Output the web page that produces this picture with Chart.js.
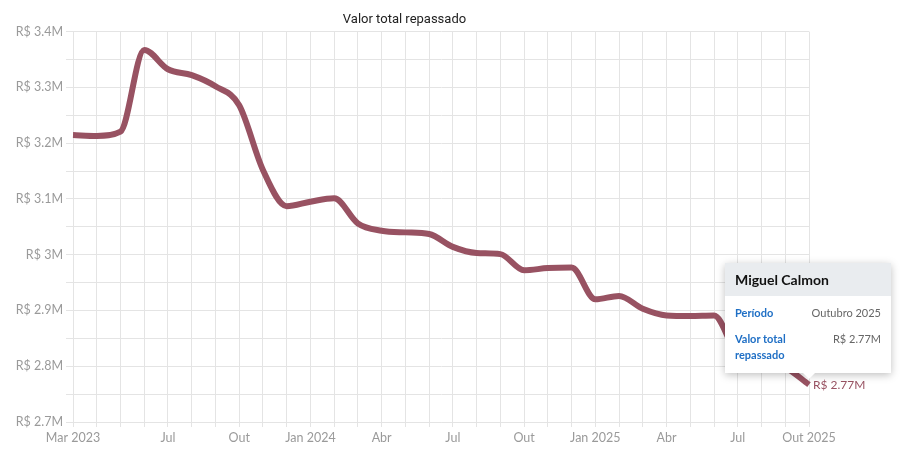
<!DOCTYPE html>
<html>
<head>
<meta charset="utf-8">
<script src="https://cdn.jsdelivr.net/npm/chart.js@4.4.1/dist/chart.umd.min.js"></script>
<style>
  html, body { margin: 0; padding: 0; background: #fff; }
  #wrap { position: relative; width: 907px; height: 465px; }
  #tip {
    position: absolute; width: 166px; background: #fff;
    box-shadow: 0 2px 8px rgba(0,0,0,0.25); font-family: Lato, sans-serif;
  }
  #tip::after {
    content: ''; position: absolute; bottom: -6px; left: 78px;
    border-left: 6px solid transparent; border-right: 6px solid transparent;
    border-top: 6px solid #fff;
  }
  #tip .head { background: #e9ecef; padding: 8px 10px; font-weight: bold; font-size: 14px; color: #111; }
  #tip .row { display: flex; justify-content: space-between; padding: 0 10px; font-size: 11px; line-height: 16px; }
  #tip .row b { color: #1f6fc5; }
  #tip .row span { color: #666; }
</style>
</head>
<body>
<div id="wrap">
  <canvas id="chart" width="907" height="465"></canvas>
  <div id="tip">
    <div class="head">Miguel Calmon</div>
    <div class="row" style="margin-top:9px"><b>Período</b><span>Outubro 2025</span></div>
    <div class="row" style="margin-top:10px;margin-bottom:10px"><b>Valor total<br>repassado</b><span>R$ 2.77M</span></div>
  </div>
</div>
<script>
// meses de Mar 2023 a Out 2025
const months = [
  'Mar 2023', 'Abr 2023', 'Mai 2023', 'Jun 2023', 'Jul 2023', 'Ago 2023', 'Set 2023', 'Out 2023',
  'Nov 2023', 'Dez 2023', 'Jan 2024', 'Fev 2024', 'Mar 2024', 'Abr 2024', 'Mai 2024', 'Jun 2024',
  'Jul 2024', 'Ago 2024', 'Set 2024', 'Out 2024', 'Nov 2024', 'Dez 2024', 'Jan 2025', 'Fev 2025',
  'Mar 2025', 'Abr 2025', 'Mai 2025', 'Jun 2025', 'Jul 2025', 'Ago 2025', 'Set 2025', 'Out 2025'
];

// valor total repassado (R$)
const values = [
  3214500, 3213000, 3220500, 3367000, 3332500, 3322000, 3302000, 3268000,
  3152000, 3087000, 3095000, 3101000, 3056000, 3043000, 3040000, 3037000,
  3014000, 3003000, 3001000, 2972000, 2976000, 2977000, 2920000, 2926000,
  2903000, 2891000, 2890000, 2891000, 2822000, 2812000, 2798000, 2767000
];

// rótulos mostrados no eixo x
const tickIndex = [0, 4, 7, 10, 13, 16, 19, 22, 25, 28, 31];
const tickText = ['Mar 2023', 'Jul', 'Out', 'Jan 2024', 'Abr', 'Jul', 'Out', 'Jan 2025', 'Abr', 'Jul', 'Out 2025'];

const lineColor = '#985262';

function fmtMoney(v) {
    return 'R$ ' + (+(v / 1e6).toFixed(2)) + 'M';
}

// rótulo no último ponto + posição do tooltip
const endLabel = {
    id: 'endLabel',
    afterDatasetsDraw(chart) {
        const meta = chart.getDatasetMeta(0);
        const last = meta.data[meta.data.length - 1];
        const ctx = chart.ctx;
        ctx.save();
        ctx.font = '12px Lato, sans-serif';
        ctx.fillStyle = lineColor;
        ctx.textAlign = 'left';
        ctx.textBaseline = 'middle';
        ctx.fillText(fmtMoney(values[values.length - 1]), last.x + 4, last.y);
        ctx.restore();

        const tip = document.getElementById('tip');
        tip.style.left = (last.x - 84) + 'px';
        tip.style.top = (last.y - 12 - tip.offsetHeight) + 'px';
    }
};

const ctx = document.getElementById('chart').getContext('2d');
const chart = new Chart(ctx, {
    type: 'line',
    data: {
        labels: months,
        datasets: [{
            label: 'Valor total repassado',
            data: values,
            borderColor: lineColor,
            borderWidth: 6,
            pointRadius: 0,
            fill: false,
            cubicInterpolationMode: 'monotone'
        }]
    },
    options: {
        responsive: false,
        animation: false,
        layout: { padding: { left: 0, right: 98, top: 0, bottom: 0 } },
        plugins: {
            legend: { display: false },
            tooltip: { enabled: false },
            title: {
                display: true,
                text: 'Valor total repassado',
                color: '#222',
                font: { family: 'Roboto', size: 13, weight: 'normal' },
                padding: { top: 12, bottom: 4 }
            }
        },
        scales: {
            x: {
                grid: { color: '#e4e4e4', tickLength: 5 },
                border: { color: '#e4e4e4' },
                ticks: {
                    autoSkip: false,
                    maxRotation: 0,
                    color: '#9a9a9a',
                    font: { family: 'Lato', size: 12.5 },
                    padding: 3,
                    callback: function (value, index) {
                        const k = tickIndex.indexOf(index);
                        return k >= 0 ? tickText[k] : '';
                    }
                },
                afterFit: function (scale) { scale.height = 43; }
            },
            y: {
                min: 2700000,
                max: 3400000,
                grid: { color: '#e4e4e4', tickLength: 7 },
                border: { color: '#e4e4e4' },
                ticks: {
                    stepSize: 50000,
                    color: '#9a9a9a',
                    font: { family: 'Lato', size: 12.5 },
                    padding: 3,
                    callback: function (value) {
                        return Math.round(value / 10000) % 10 === 0 ? fmtMoney(value) : '';
                    }
                },
                afterFit: function (scale) { scale.width = 73; }
            }
        }
    },
    plugins: [endLabel]
});
</script>
</body>
</html>
